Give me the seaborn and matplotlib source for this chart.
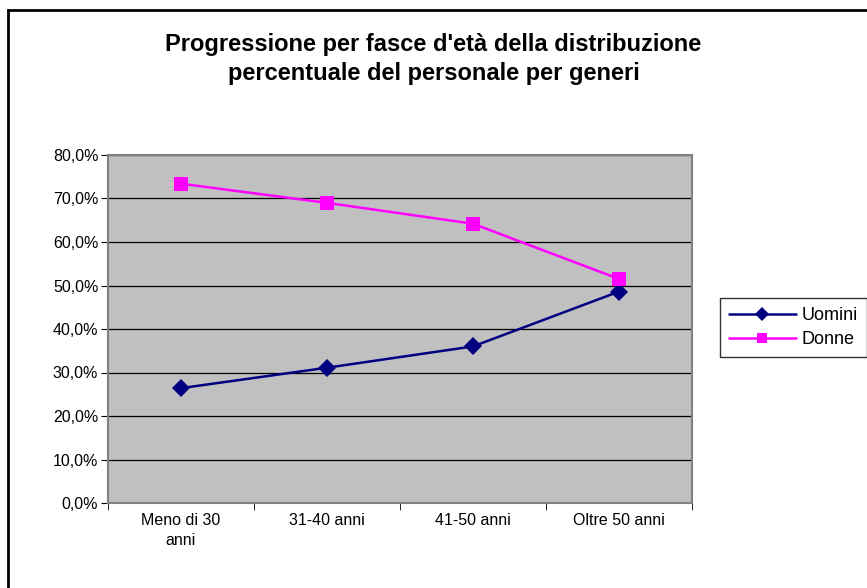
import pandas as pd
import matplotlib
matplotlib.use("Agg")
import matplotlib.pyplot as plt
import matplotlib.patches as patches
from matplotlib.ticker import FuncFormatter, FixedLocator
import seaborn as sns

# Dati
fasce = ['Meno di 30\nanni', '31-40 anni', '41-50 anni', 'Oltre 50 anni']
uomini = [26.4, 31.1, 36.0, 48.6]
donne = [73.4, 69.0, 64.2, 51.5]

df = pd.DataFrame({
    'Fascia': fasce * 2,
    'Valore': uomini + donne,
    'Genere': ['Uomini'] * len(fasce) + ['Donne'] * len(fasce),
})

sns.set_style("white")
plt.rcParams['font.family'] = ['Liberation Sans', 'DejaVu Sans']
plt.rcParams['text.color'] = 'black'
plt.rcParams['xtick.color'] = 'black'
plt.rcParams['ytick.color'] = 'black'

W, H = 867, 588
fig = plt.figure(figsize=(W / 100, H / 100), dpi=100)
ax = fig.add_axes([108 / W, 1 - 503 / H, 584 / W, 348 / H])
ax.set_facecolor('#C0C0C0')

sns.lineplot(data=df, x='Fascia', y='Valore', hue='Genere', style='Genere',
             palette={'Uomini': '#000080', 'Donne': '#FF00FF'},
             markers={'Uomini': 'D', 'Donne': 's'}, dashes=False,
             markersize=9.5, linewidth=1.8, markeredgewidth=0, ax=ax, sort=False)

ax.set_ylim(0, 80)
ax.set_xlim(-0.5, 3.5)
ax.set_yticks(range(0, 81, 10))
ax.yaxis.set_major_formatter(FuncFormatter(lambda v, p: f'{v:.1f}%'.replace('.', ',')))
ax.yaxis.grid(True, color='black', linewidth=0.9)
ax.set_axisbelow(True)

# etichette al centro, tacche ai bordi delle categorie
ax.set_xticks(range(4))
ax.set_xticklabels(fasce, linespacing=1.4)
ax.xaxis.set_minor_locator(FixedLocator([-0.5, 0.5, 1.5, 2.5, 3.5]))
ax.tick_params(axis='x', which='major', length=0, pad=7, labelsize=11.5, labelcolor='black')
ax.tick_params(axis='x', which='minor', length=5, color='black', direction='out', bottom=True)
ax.tick_params(axis='y', length=5, color='black', direction='out', left=True, labelsize=11.5,
               pad=2, labelcolor='black')
ax.set_xlabel('')
ax.set_ylabel('')
for s in ax.spines.values():
    s.set_color('#808080')
    s.set_linewidth(1.5)

leg = ax.legend(loc='upper left', bbox_to_anchor=(720 / W, 1 - 298 / H),
                bbox_transform=fig.transFigure, frameon=True,
                fancybox=False, edgecolor='black', fontsize=13, handlelength=3.7,
                borderpad=0.5, labelspacing=0.4, handletextpad=0.3, borderaxespad=0)
leg.get_frame().set_linewidth(1.0)
for h in leg.legend_handles:
    h.set_markersize(7.5)
for t in leg.get_texts():
    t.set_color('black')

fig.text(0.5, 1 - 51 / H, "Progressione per fasce d'età della distribuzione",
         ha='center', va='baseline', fontsize=17, fontweight='bold', color='black')
fig.text(0.5, 1 - 80 / H, "percentuale del personale per generi",
         ha='center', va='baseline', fontsize=17, fontweight='bold', color='black')

# cornice esterna (tagliata a destra e in basso come nell'originale)
fig.patches.append(patches.Rectangle((8 / W, -0.02), 1.0, 1.02 - 10 / H,
                                     transform=fig.transFigure, fill=False,
                                     edgecolor='black', linewidth=2))

plt.savefig('out.png', dpi=100)
plt.close()
